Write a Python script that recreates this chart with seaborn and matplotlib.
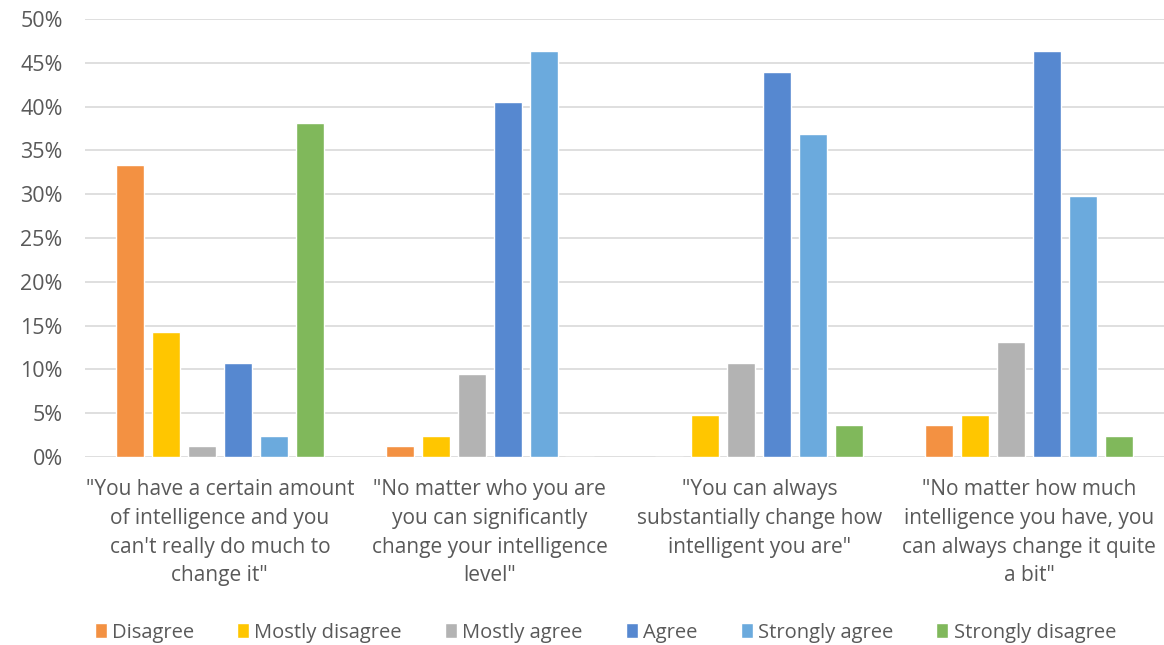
import pandas as pd
import matplotlib.pyplot as plt
import seaborn as sns

# Категории (утверждения) и варианты ответа
statements = [
    '"You have a certain amount\nof intelligence and you\ncan\'t really do much to\nchange it"',
    '"No matter who you are\nyou can significantly\nchange your intelligence\nlevel"',
    '"You can always\nsubstantially change how\nintelligent you are"',
    '"No matter how much\nintelligence you have, you\ncan always change it quite\na bit"',
]
answers = ['Disagree', 'Mostly disagree', 'Mostly agree', 'Agree', 'Strongly agree', 'Strongly disagree']

# Доли ответов (%) для каждого утверждения
disagree = [33.3, 1.2, 0.0, 3.6]
mostly_disagree = [14.3, 2.4, 4.8, 4.8]
mostly_agree = [1.2, 9.5, 10.7, 13.1]
agree = [10.7, 40.5, 44.0, 46.4]
strongly_agree = [2.4, 46.4, 36.9, 29.8]
strongly_disagree = [38.1, 0.0, 3.6, 2.4]

colors = ['#F39142', '#FFC600', '#B3B3B3', '#5688D0', '#6BAADD', '#80B85B']

series = [disagree, mostly_disagree, mostly_agree, agree, strongly_agree, strongly_disagree]
rows = []
for ans, vals in zip(answers, series):
    for st, v in zip(statements, vals):
        rows.append({'statement': st, 'answer': ans, 'value': v})
df = pd.DataFrame(rows)

sns.set_style('white')
plt.rcParams['font.family'] = ['Open Sans', 'DejaVu Sans']

fig = plt.figure(figsize=(11.64, 6.45), dpi=100)
ax = fig.add_axes([0.073, 0.2915, 0.927, 0.679])

sns.barplot(data=df, x='statement', y='value', hue='answer', hue_order=answers,
            order=statements, palette=colors, saturation=1, width=0.8, gap=0.22,
            ax=ax, legend=True, zorder=3)

ax.set_ylim(0, 50)
ax.set_xlim(-0.5, 3.5)
ax.set_yticks(range(0, 51, 5))
ax.set_yticklabels([f'{v}%' for v in range(0, 51, 5)], fontsize=15.5, color='#595959')
ax.tick_params(axis='x', labelsize=15, labelcolor='#595959', length=0, pad=16)
ax.tick_params(axis='y', length=0, pad=16)
for lbl in ax.get_xticklabels():
    lbl.set_linespacing(1.48)
ax.yaxis.grid(True, color='#D9D9D9', linewidth=1.2, zorder=0)
ax.set_axisbelow(True)
for s in ax.spines.values():
    s.set_visible(False)
ax.set_xlabel('')
ax.set_ylabel('')

handles, labels = ax.get_legend_handles_labels()
ax.get_legend().remove()
fig.legend(handles, labels, loc='center', bbox_to_anchor=(0.52, 0.019), ncol=6,
           frameon=False, fontsize=14.5, handlelength=0.6, handleheight=0.75,
           handletextpad=0.25, columnspacing=2.15, labelcolor='#595959')

fig.savefig('out.png', dpi=100)
